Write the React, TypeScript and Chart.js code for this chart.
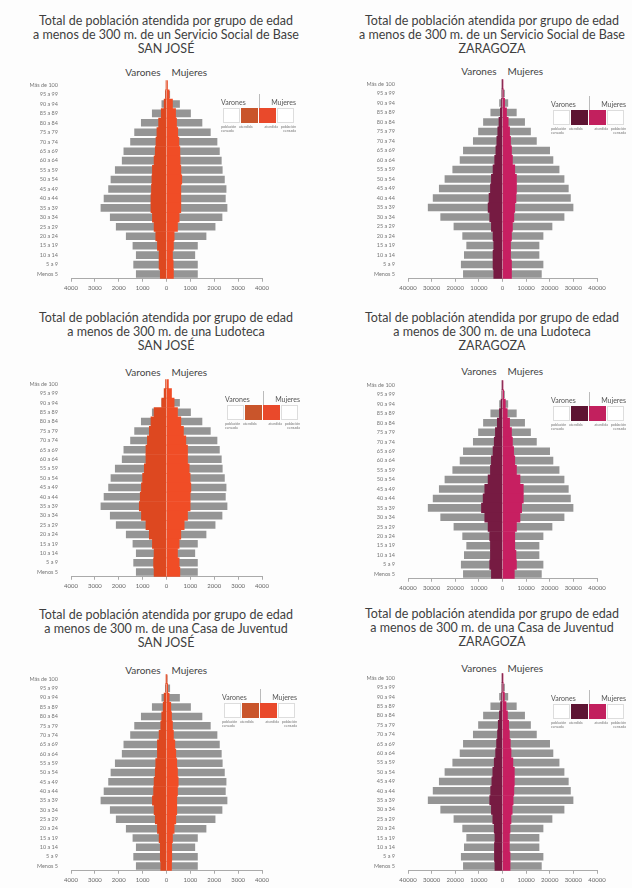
import React, { useEffect, useRef } from "react";
import { Chart, registerables } from "chart.js";

Chart.register(...registerables);

// ---------- DATA ----------
const ageGroups = [
  "Más de 100", "95 a 99", "90 a 94", "85 a 89", "80 a 84", "75 a 79", "70 a 74",
  "65 a 69", "60 a 64", "55 a 59", "50 a 54", "45 a 49", "40 a 44", "35 a 39",
  "30 a 34", "25 a 29", "20 a 24", "15 a 19", "10 a 14", "5 a 9", "Menos 5",
];

const sjTicks = [-4000, -3000, -2000, -1000, 0, 1000, 2000, 3000, 4000];
const zgTicks = [-40000, -30000, -20000, -10000, 0, 10000, 20000, 30000, 40000];

// Total population (grey bars)
const sjTotalMen = [20, 60, 210, 610, 1070, 1350, 1520, 1800, 1870, 2160, 2340, 2440, 2630, 2760, 2370, 2120, 1700, 1420, 1280, 1390, 1280];
const sjTotalWomen = [40, 150, 560, 1020, 1500, 1850, 2130, 2230, 2310, 2350, 2440, 2510, 2480, 2550, 2340, 2050, 1670, 1310, 1200, 1310, 1310];
const zgTotalMen = [100, 400, 1400, 5100, 8200, 10300, 12500, 16700, 18100, 21200, 24500, 26900, 29500, 31600, 26300, 20700, 17000, 15300, 16300, 17600, 16700];
const zgTotalWomen = [250, 1000, 2400, 6000, 9500, 12000, 14500, 20100, 21500, 24100, 26200, 28000, 28900, 30000, 26200, 21100, 17300, 15600, 15600, 17300, 16600];

// Attended population (coloured bars)
const sjSsbMen = [15, 40, 100, 220, 330, 400, 440, 470, 520, 590, 610, 630, 650, 650, 590, 520, 450, 380, 310, 310, 260];
const sjSsbWomen = [40, 110, 250, 380, 420, 470, 520, 560, 570, 600, 640, 600, 600, 600, 530, 460, 320, 290, 250, 280, 290];
const sjLudMen = [40, 100, 200, 520, 650, 720, 800, 860, 860, 930, 1000, 1050, 1100, 1140, 1050, 860, 720, 590, 520, 540, 520];
const sjLudWomen = [80, 210, 320, 460, 600, 710, 810, 880, 880, 950, 990, 1020, 990, 990, 880, 740, 600, 530, 460, 530, 560];
const sjCjMen = [5, 30, 100, 140, 200, 240, 310, 380, 380, 450, 470, 520, 540, 590, 520, 470, 380, 310, 260, 260, 240];
const sjCjWomen = [10, 50, 110, 180, 210, 250, 290, 350, 390, 430, 460, 490, 460, 430, 430, 390, 320, 250, 220, 220, 210];

const zgSsbMen = [30, 150, 400, 900, 1500, 2000, 2400, 2800, 3300, 4000, 4700, 5100, 5700, 6100, 5400, 4700, 4000, 3700, 4000, 4000, 3700];
const zgSsbWomen = [80, 350, 900, 1700, 2400, 3000, 3400, 3800, 4200, 5200, 5900, 5900, 5700, 5200, 4800, 4200, 3800, 3400, 3400, 3800, 3800];
const zgLudMen = [40, 200, 600, 1300, 2200, 3000, 3500, 4000, 4700, 5100, 6100, 7500, 8200, 8900, 7500, 6100, 5400, 5100, 5100, 5400, 4700];
const zgLudWomen = [100, 500, 1200, 2000, 3000, 3800, 4200, 4700, 5200, 5900, 7400, 8800, 8800, 8100, 7400, 5900, 5200, 5200, 5700, 5900, 5000];
const zgCjMen = [20, 120, 350, 800, 1300, 1800, 2100, 2500, 2900, 3500, 4100, 4500, 5000, 5400, 4700, 4100, 3500, 3200, 3400, 3400, 3200];
const zgCjWomen = [60, 300, 800, 1500, 2100, 2600, 2900, 3300, 3600, 4400, 5000, 5000, 4800, 4500, 4100, 3600, 3200, 2900, 2900, 3200, 3200];

const titleLine1 = "Total de población atendida por grupo de edad";
const titleLine2 = [
  "a menos de 300 m. de un Servicio Social de Base",
  "a menos de 300 m. de una Ludoteca",
  "a menos de 300 m. de una Casa de Juventud",
];
const cities = ["SAN JOSÉ", "ZARAGOZA"];
const legendHeaders = ["Varones", "Mujeres"];
const legendNotes = ["población censada", "atendida", "atendida", "población censada"];

// ---------- STYLE ----------
const FONT = "Lato, 'Open Sans', sans-serif";
const GREY = "#959595";
const SJ_COLORS = { men: "#dd4820", women: "#f04d26", legMen: "#c9552b", legWomen: "#e9492b" };
const ZG_COLORS = { men: "#761b42", women: "#c71f61", legMen: "#5e1433", legWomen: "#c2205e" };

type Geom = {
  canvasLeft: number;
  plotLeft: number;
  plotRight: number;
  canvasRight: number;
  firstRow: number;
  lastRow: number;
};

function Pyramid(props: {
  geom: Geom;
  ticks: number[];
  totMen: number[];
  totWomen: number[];
  attMen: number[];
  attWomen: number[];
  colors: { men: string; women: string };
}) {
  const ref = useRef<HTMLCanvasElement>(null);
  const { geom, ticks } = props;
  const spacing = (geom.lastRow - geom.firstRow) / (ageGroups.length - 1);
  const plotTop = geom.firstRow - spacing / 2;
  const plotBottom = geom.lastRow + spacing / 2;
  const canvasTop = Math.round(plotTop - 6);
  const padTop = plotTop - canvasTop;
  const canvasH = Math.round(plotBottom - canvasTop + 18);
  const xAxisH = canvasH - (plotBottom - canvasTop);
  const canvasW = geom.canvasRight - geom.canvasLeft;
  const yAxisW = geom.plotLeft - geom.canvasLeft;
  const padRight = geom.canvasRight - geom.plotRight;

  useEffect(() => {
    if (!ref.current) return;
    const chart = new Chart(ref.current, {
      type: "bar",
      data: {
        labels: ageGroups,
        datasets: [
          { data: props.attMen.map((v) => -v), backgroundColor: props.colors.men, grouped: false, barPercentage: 1, categoryPercentage: 1, order: 0 } as any,
          { data: props.attWomen, backgroundColor: props.colors.women, grouped: false, barPercentage: 1, categoryPercentage: 1, order: 0 } as any,
          { data: props.totMen.map((v) => -v), backgroundColor: GREY, grouped: false, barPercentage: 0.8, categoryPercentage: 1, order: 1 } as any,
          { data: props.totWomen, backgroundColor: GREY, grouped: false, barPercentage: 0.8, categoryPercentage: 1, order: 1 } as any,
        ],
      },
      options: {
        indexAxis: "y",
        responsive: false,
        animation: false,
        layout: { padding: { top: padTop, right: padRight, left: 0, bottom: 0 } },
        plugins: { legend: { display: false }, tooltip: { enabled: false } },
        scales: {
          x: {
            min: ticks[0],
            max: ticks[ticks.length - 1],
            afterBuildTicks: (s: any) => {
              s.ticks = ticks.map((v) => ({ value: v }));
            },
            ticks: {
              callback: (v: any) => String(Math.abs(Number(v))),
              font: { family: FONT, size: 6 },
              color: "#666",
              padding: 3,
              maxRotation: 0,
              autoSkip: false,
            },
            grid: { drawOnChartArea: false, drawTicks: true, tickLength: 3, color: "#aaa" },
            border: { color: "#aaa" },
            afterFit: (s: any) => {
              s.height = xAxisH;
            },
          },
          y: {
            ticks: { font: { family: FONT, size: 5.5 }, color: "#777", padding: 5, autoSkip: false },
            grid: { display: false },
            border: { display: false },
            afterFit: (s: any) => {
              s.width = yAxisW;
            },
          },
        },
      } as any,
    });
    return () => chart.destroy();
  }, []);

  return (
    <canvas
      ref={ref}
      width={canvasW}
      height={canvasH}
      style={{ position: "absolute", left: geom.canvasLeft, top: canvasTop, width: canvasW, height: canvasH }}
    />
  );
}

function Title(props: { cx: number; top: number; line2: string; city: string }) {
  return (
    <div
      style={{
        position: "absolute",
        left: props.cx - 170,
        width: 340,
        top: props.top,
        textAlign: "center",
        fontFamily: FONT,
        fontSize: 12.5,
        lineHeight: "14px",
        color: "#3f3f3f",
      }}
    >
      <div>{titleLine1}</div>
      <div>{props.line2}</div>
      <div>{props.city}</div>
    </div>
  );
}

function SexHeader(props: { cx: number; cy: number }) {
  const s: React.CSSProperties = { position: "absolute", top: props.cy - 7, fontFamily: FONT, fontSize: 10, lineHeight: "14px", color: "#444", whiteSpace: "nowrap" };
  return (
    <>
      <div style={{ ...s, right: 632 - (props.cx - 6) }}>{legendHeaders[0]}</div>
      <div style={{ ...s, left: props.cx + 5 }}>{legendHeaders[1]}</div>
    </>
  );
}

function Legend(props: { x: number; y: number; w: number; colors: { legMen: string; legWomen: string } }) {
  const bw = props.w / 4;
  const boxColors = ["#ffffff", props.colors.legMen, props.colors.legWomen, "#ffffff"];
  const head: React.CSSProperties = { position: "absolute", top: props.y - 5, fontFamily: FONT, fontSize: 7, lineHeight: "10px", color: "#555", whiteSpace: "nowrap" };
  return (
    <>
      <div style={{ ...head, left: props.x - 2 }}>{legendHeaders[0]}</div>
      <div style={{ ...head, right: 632 - (props.x + props.w + 1) }}>{legendHeaders[1]}</div>
      <div style={{ position: "absolute", left: props.x + props.w / 2, top: props.y - 8, width: 0.8, height: 14, background: "#bbb" }} />
      {boxColors.map((c, i) => (
        <div
          key={i}
          style={{
            position: "absolute",
            left: props.x + i * bw,
            top: props.y + 6,
            width: bw - 1,
            height: 15,
            background: c,
            boxSizing: "border-box",
            border: c === "#ffffff" ? "0.6px solid #ddd" : "none",
          }}
        />
      ))}
      {legendNotes.map((t, i) => (
        <div
          key={"n" + i}
          style={{
            position: "absolute",
            left: props.x + i * bw - 2,
            width: bw + 3,
            top: props.y + 23,
            fontFamily: FONT,
            fontSize: 3.6,
            lineHeight: "4.2px",
            color: "#777",
            textAlign: i < 2 ? "left" : "right",
          }}
        >
          {t}
        </div>
      ))}
    </>
  );
}

const leftX = { canvasLeft: 8, plotLeft: 71, plotRight: 262, canvasRight: 292 };
const rightX = { canvasLeft: 330, plotLeft: 408, plotRight: 597, canvasRight: 627 };

const panels = [
  { x: leftX, rows: [83, 274], titleTop: 14, header: 72, legendY: 102, legX: 223, city: 0, kind: 0 },
  { x: rightX, rows: [82, 274], titleTop: 14, header: 71, legendY: 104, legX: 553, city: 1, kind: 0 },
  { x: leftX, rows: [382, 572], titleTop: 311, header: 372, legendY: 399, legX: 227, city: 0, kind: 1 },
  { x: rightX, rows: [383, 574], titleTop: 311, header: 371, legendY: 400, legX: 553, city: 1, kind: 1 },
  { x: leftX, rows: [677, 866], titleTop: 608, header: 670, legendY: 697, legX: 224, city: 0, kind: 2 },
  { x: rightX, rows: [676, 866], titleTop: 607, header: 668, legendY: 698, legX: 553, city: 1, kind: 2 },
];

const sjAtt = [
  [sjSsbMen, sjSsbWomen],
  [sjLudMen, sjLudWomen],
  [sjCjMen, sjCjWomen],
];
const zgAtt = [
  [zgSsbMen, zgSsbWomen],
  [zgLudMen, zgLudWomen],
  [zgCjMen, zgCjWomen],
];

export default function App() {
  return (
    <div style={{ position: "absolute", left: 0, top: 0, width: 632, height: 888, background: "#fdfdfd", overflow: "hidden" }}>
      {panels.map((p, i) => {
        const isSJ = p.city === 0;
        const att = isSJ ? sjAtt[p.kind] : zgAtt[p.kind];
        const cx0 = (p.x.plotLeft + p.x.plotRight) / 2;
        const titleCx = isSJ ? 166 : 492;
        return (
          <React.Fragment key={i}>
            <Title cx={titleCx} top={p.titleTop} line2={titleLine2[p.kind]} city={cities[p.city]} />
            <SexHeader cx={cx0} cy={p.header} />
            <Pyramid
              geom={{ ...p.x, firstRow: p.rows[0], lastRow: p.rows[1] }}
              ticks={isSJ ? sjTicks : zgTicks}
              totMen={isSJ ? sjTotalMen : zgTotalMen}
              totWomen={isSJ ? sjTotalWomen : zgTotalWomen}
              attMen={att[0]}
              attWomen={att[1]}
              colors={isSJ ? SJ_COLORS : ZG_COLORS}
            />
            <Legend x={p.legX} y={p.legendY} w={72} colors={isSJ ? SJ_COLORS : ZG_COLORS} />
          </React.Fragment>
        );
      })}
    </div>
  );
}
